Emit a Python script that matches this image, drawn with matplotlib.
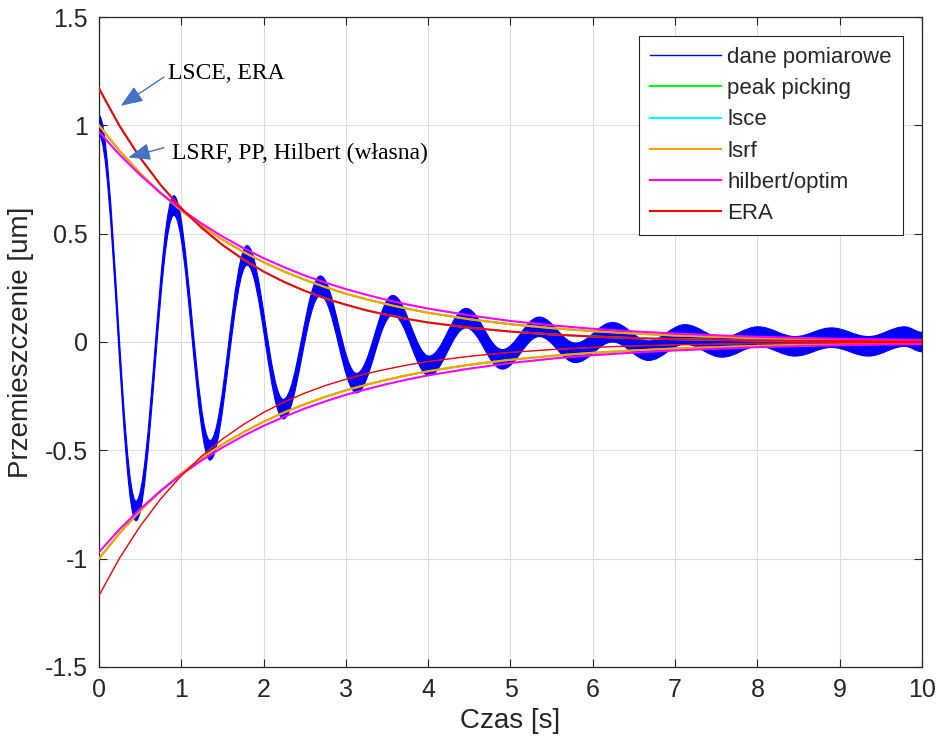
"""Damped free-vibration record with envelopes fitted by several methods."""
import matplotlib
matplotlib.use("Agg")
import matplotlib.pyplot as plt
from matplotlib.lines import Line2D
from matplotlib.patches import PathPatch
from matplotlib.path import Path
from matplotlib.ticker import FuncFormatter

EXT_T = [0.00, 0.45, 0.91, 1.35, 1.80, 2.24, 2.69, 3.13, 3.57, 4.01, 4.46, 4.90,
         5.35, 5.79, 6.24, 6.68, 7.12, 7.57, 8.01, 8.46, 8.90, 9.35, 9.79, 10.0]
EXT_Y = [1.00, -0.78, 0.63, -0.50, 0.40, -0.31, 0.26, -0.19, 0.17, -0.11, 0.11, -0.08,
         0.07, -0.05, 0.045, -0.04, 0.035, -0.025, 0.025, -0.02, 0.02, -0.02, 0.025, 0.0]
NOISE = 0.045  # half-width of the measurement noise band

# envelopes (upper branch; lower branch is the mirror image)
ENV_T = [0, 0.25, 0.5, 0.75, 1, 1.25, 1.5, 1.75, 2, 2.25, 2.5, 2.75, 3, 3.25, 3.5,
         3.75, 4, 4.5, 5, 5.5, 6, 6.5, 7, 7.5, 8, 8.5, 9, 9.5, 10]
LSRF = [1.000, 0.882, 0.779, 0.687, 0.607, 0.535, 0.472, 0.417, 0.368, 0.325, 0.287,
        0.253, 0.223, 0.197, 0.174, 0.153, 0.135, 0.105, 0.082, 0.064, 0.050, 0.039,
        0.030, 0.024, 0.018, 0.014, 0.011, 0.009, 0.007]
PEAK_PICKING = list(LSRF)
HILBERT = [0.970, 0.864, 0.771, 0.687, 0.612, 0.546, 0.487, 0.434, 0.387, 0.345, 0.307,
           0.274, 0.244, 0.218, 0.194, 0.173, 0.154, 0.123, 0.097, 0.077, 0.061, 0.049,
           0.039, 0.031, 0.024, 0.019, 0.015, 0.012, 0.010]
ERA = [1.170, 0.997, 0.850, 0.724, 0.617, 0.526, 0.448, 0.382, 0.325, 0.277, 0.236,
       0.201, 0.172, 0.146, 0.125, 0.106, 0.090, 0.066, 0.048, 0.035, 0.025, 0.018,
       0.013, 0.010, 0.007, 0.005, 0.004, 0.003, 0.002]
LSCE = list(ERA)

GRAY = "#262626"
plt.rcParams["font.family"] = ["Liberation Sans", "DejaVu Sans"]
plt.rcParams["axes.unicode_minus"] = False


def band_path(ts, ys, half):
    # half-cosine-like cubic segments between extrema, shifted up/down by half
    k = 0.3634
    verts, codes = [(ts[0], ys[0] + half)], [Path.MOVETO]
    for i in range(len(ts) - 1):
        dt = ts[i + 1] - ts[i]
        verts += [(ts[i] + k * dt, ys[i] + half), (ts[i + 1] - k * dt, ys[i + 1] + half),
                  (ts[i + 1], ys[i + 1] + half)]
        codes += [Path.CURVE4] * 3
    verts.append((ts[-1], ys[-1] - half))
    codes.append(Path.LINETO)
    for i in range(len(ts) - 1, 0, -1):
        dt = ts[i] - ts[i - 1]
        verts += [(ts[i] - k * dt, ys[i] - half), (ts[i - 1] + k * dt, ys[i - 1] - half),
                  (ts[i - 1], ys[i - 1] - half)]
        codes += [Path.CURVE4] * 3
    verts.append(verts[0])
    codes.append(Path.CLOSEPOLY)
    return Path(verts, codes)


fig = plt.figure(figsize=(9.43, 7.49), dpi=100)
ax = fig.add_axes([0.105, 0.1095, 0.8727, 0.8678])

ax.add_patch(PathPatch(band_path(EXT_T, EXT_Y, NOISE), facecolor="#0000FF",
                       edgecolor="#0000FF", lw=0.8, zorder=2))

curves = [(PEAK_PICKING, "#00FF00", "peak picking"),
          (LSCE, "#00FFFF", "lsce"),
          (LSRF, "#FFA000", "lsrf"),
          (HILBERT, "#FF00FF", "hilbert/optim"),
          (ERA, "#FF0000", "ERA")]
lower_lw = {"lsce": 0.5, "ERA": 1.0}
for vals, col, lab in curves:
    ax.plot(ENV_T, vals, color=col, lw=1.5, zorder=3)
    ax.plot(ENV_T, [-v for v in vals], color=col, lw=lower_lw.get(lab, 1.5), zorder=3)

handles = [Line2D([], [], color="#0000FF", lw=1.0, label="dane pomiarowe")]
handles += [Line2D([], [], color=c, lw=1.5, label=l) for _, c, l in curves]
leg = ax.legend(handles=handles, loc="upper right", fontsize=16, handlelength=3.2,
                handletextpad=0.3, labelspacing=0.46, borderaxespad=0.85,
                borderpad=0.5, fancybox=False, framealpha=1)
leg.get_frame().set_edgecolor(GRAY)
leg.get_frame().set_linewidth(0.8)
for t in leg.get_texts():
    t.set_color(GRAY)

ax.set_xlim(0, 10)
ax.set_ylim(-1.5, 1.5)
ax.set_xticks(range(0, 11))
ax.set_yticks([-1.5, -1, -0.5, 0, 0.5, 1, 1.5])
ax.yaxis.set_major_formatter(FuncFormatter(lambda v, p: f"{v:g}"))
ax.grid(True, color="#DCDCDC", lw=0.8)
ax.set_axisbelow(True)
ax.tick_params(direction="in", length=6, width=0.8, colors=GRAY, labelsize=18,
               top=True, right=True, pad=8)
for s in ax.spines.values():
    s.set_color(GRAY)
    s.set_linewidth(0.9)
ax.set_xlabel("Czas [s]", fontsize=20, color=GRAY, labelpad=4)
ax.set_ylabel("Przemieszczenie [um]", fontsize=20, color=GRAY, labelpad=8)

arrow = dict(arrowstyle="-|>,head_length=0.9,head_width=0.35", color="#4472C4",
             lw=1.0, mutation_scale=15, shrinkA=0, shrinkB=0)
serif = ["Liberation Serif", "DejaVu Serif"]
ax.annotate("", xy=(0.264, 1.090), xytext=(0.790, 1.223), arrowprops=arrow, zorder=5)
ax.text(0.842, 1.214, "LSCE, ERA", family=serif, fontsize=17, va="baseline", zorder=5)
ax.annotate("", xy=(0.356, 0.852), xytext=(0.790, 0.897), arrowprops=arrow, zorder=5)
ax.text(0.883, 0.845, "LSRF, PP, Hilbert (własna)", family=serif, fontsize=17,
        va="baseline", zorder=5)

fig.savefig("out.png", dpi=100)
